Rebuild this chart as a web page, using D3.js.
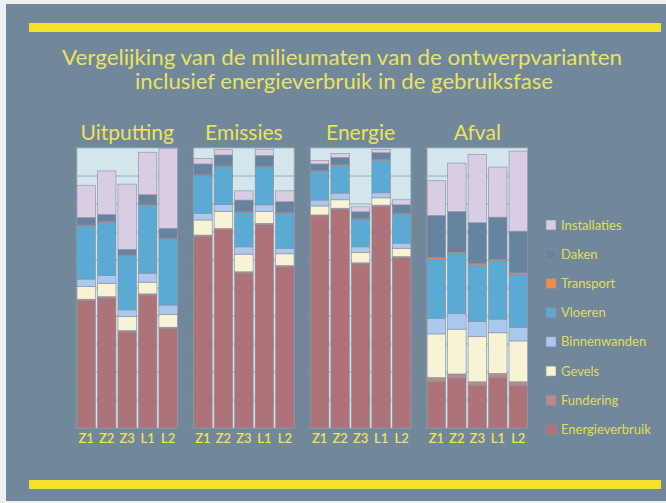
<!DOCTYPE html>
<html>
<head>
<meta charset="utf-8">
<script src="https://cdn.jsdelivr.net/npm/d3@7"></script>
<style>
  body { margin: 0; background: #eef0f0; }
  svg { display: block; }
</style>
</head>
<body>
<script>
// milieumaten van de ontwerpvarianten, gestapelde staven per thema

const width = 666, height = 503;

const panels = ["Uitputting", "Emissies", "Energie", "Afval"];
const variants = ["Z1", "Z2", "Z3", "L1", "L2"];
// van onder naar boven gestapeld
const components = ["Energieverbruik", "Fundering", "Gevels", "Binnenwanden",
                    "Vloeren", "Transport", "Daken", "Installaties"];
const legendOrder = components.slice().reverse();

// rijen = components, kolommen = variants (procent van max)
const uitputting = [
  [45.5, 46.4, 34.3, 47.4, 35.5],
  [0.5, 0.5, 0.5, 0.5, 0.5],
  [4.5, 4.8, 5.0, 4.2, 4.6],
  [2.7, 2.7, 2.4, 3.2, 3.3],
  [19.0, 19.0, 19.3, 24.1, 23.5],
  [0.3, 0.3, 0.3, 0.3, 0.3],
  [2.7, 2.5, 2.0, 3.6, 3.6],
  [11.5, 15.6, 23.3, 15.2, 28.6]
];
const emissies = [
  [68.4, 70.8, 55.3, 72.6, 57.5],
  [0.5, 0.5, 0.5, 0.5, 0.5],
  [5.4, 6.0, 6.3, 4.2, 4.2],
  [2.4, 2.6, 2.6, 2.4, 2.0],
  [13.4, 13.4, 12.2, 13.4, 12.4],
  [0.3, 0.3, 0.3, 0.3, 0.3],
  [3.9, 3.9, 4.2, 3.9, 3.9],
  [2.0, 2.0, 3.3, 2.3, 3.9]
];
const energie = [
  [75.7, 78.1, 58.6, 79.2, 60.8],
  [0.4, 0.4, 0.4, 0.4, 0.4],
  [3.2, 3.0, 3.6, 2.6, 3.0],
  [2.1, 2.4, 2.1, 1.8, 1.8],
  [10.2, 9.8, 9.8, 11.6, 10.4],
  [0.3, 0.3, 0.3, 0.3, 0.3],
  [2.4, 2.6, 2.4, 2.4, 3.0],
  [1.2, 1.5, 1.8, 1.2, 1.8]
];
const afval = [
  [16.6, 17.9, 15.2, 18.1, 15.1],
  [1.4, 1.4, 1.3, 1.4, 1.4],
  [15.6, 16.0, 16.1, 14.5, 14.6],
  [5.6, 5.5, 5.4, 4.9, 4.8],
  [21.1, 21.4, 20.2, 20.8, 19.0],
  [0.6, 0.5, 0.5, 0.5, 0.5],
  [15.0, 14.6, 14.6, 15.1, 14.9],
  [12.4, 17.3, 24.4, 17.9, 28.6]
];
const panelValues = [uitputting, emissies, energie, afval];
const yTicks = [0, 10, 20, 30, 40, 50, 60, 70, 80, 90, 100];

const colors = ["#ad7378", "#b88a8c", "#f6f4d4", "#abc9ee",
                "#5aaad3", "#f08a4e", "#6683a0", "#d9cde6"];
const color = d3.scaleOrdinal().domain(components).range(colors);

const yellow = "#ebe35a";
const font = "Lato, 'Open Sans', sans-serif";

const svg = d3.select("body").append("svg")
    .attr("width", width)
    .attr("height", height);

// achtergrond van de dia
svg.append("rect")
    .attr("x", 6).attr("y", 4)
    .attr("width", width - 6).attr("height", height - 6)
    .attr("fill", "#71889a");

svg.append("rect").attr("x", 29).attr("y", 23).attr("width", 632).attr("height", 9).attr("fill", "#f2e22c");
svg.append("rect").attr("x", 29).attr("y", 480).attr("width", 632).attr("height", 9).attr("fill", "#f2e22c");

const title = svg.append("g")
    .attr("font-family", font)
    .attr("fill", yellow)
    .attr("text-anchor", "middle");
title.append("text")
    .attr("x", 342).attr("y", 65)
    .attr("font-size", 21)
    .attr("textLength", 560).attr("lengthAdjust", "spacingAndGlyphs")
    .text("Vergelijking van de milieumaten van de ontwerpvarianten");
title.append("text")
    .attr("x", 344).attr("y", 89)
    .attr("font-size", 21)
    .attr("textLength", 418).attr("lengthAdjust", "spacingAndGlyphs")
    .text("inclusief energieverbruik in de gebruiksfase");

const plotTop = 148, plotBottom = 428;

const xPanel = d3.scaleBand()
    .domain(panels)
    .range([77, 527.5])
    .paddingInner(0.14);

const x = d3.scaleBand()
    .domain(variants)
    .range([0, xPanel.bandwidth()])
    .paddingInner(0.1)
    .paddingOuter(0);

const y = d3.scaleLinear()
    .domain([0, 100])
    .range([plotBottom, plotTop]);

const stack = d3.stack().keys(components);

panels.forEach((name, p) => {
  const vals = panelValues[p];
  const rows = variants.map((v, j) => {
    const row = {variant: v};
    components.forEach((c, i) => { row[c] = vals[i][j]; });
    return row;
  });

  const g = svg.append("g")
      .attr("transform", "translate(" + xPanel(name) + ",0)");

  g.append("rect")
      .attr("x", 0).attr("y", plotTop)
      .attr("width", xPanel.bandwidth())
      .attr("height", plotBottom - plotTop)
      .attr("fill", "#d3e6ec")
      .attr("stroke", "#a7b7bf")
      .attr("stroke-width", 0.8);

  // rasterlijnen
  g.selectAll(".grid")
    .data(yTicks.slice(1, -1))
    .enter().append("line")
      .attr("x1", 0).attr("x2", xPanel.bandwidth())
      .attr("y1", d => y(d)).attr("y2", d => y(d))
      .attr("stroke", "#8e9ea8")
      .attr("stroke-width", 0.8);

  g.selectAll(".tick")
    .data(yTicks)
    .enter().append("line")
      .attr("x1", -3).attr("x2", 0)
      .attr("y1", d => y(d)).attr("y2", d => y(d))
      .attr("stroke", "#8a9aa4")
      .attr("stroke-width", 0.8);

  g.selectAll(".layer")
    .data(stack(rows))
    .enter().append("g")
      .attr("fill", d => color(d.key))
    .selectAll("rect")
    .data(d => d)
    .enter().append("rect")
      .attr("x", d => x(d.data.variant))
      .attr("y", d => y(d[1]))
      .attr("width", x.bandwidth())
      .attr("height", d => y(d[0]) - y(d[1]))
      .attr("stroke", "#8d8c9c")
      .attr("stroke-width", 0.6);

  g.append("text")
      .attr("x", xPanel.bandwidth() / 2)
      .attr("y", 140)
      .attr("text-anchor", "middle")
      .attr("font-family", font)
      .attr("font-size", 21)
      .attr("fill", yellow)
      .text(name);

  g.selectAll(".xlab")
    .data(variants)
    .enter().append("text")
      .attr("x", d => x(d) + x.bandwidth() / 2)
      .attr("y", 443)
      .attr("text-anchor", "middle")
      .attr("font-family", font)
      .attr("font-size", 13)
      .attr("font-weight", 600)
      .attr("fill", yellow)
      .text(d => d);
});

// legenda
const legend = svg.append("g")
    .attr("font-family", font)
    .attr("font-size", 13)
    .attr("fill", "#e0dc5e");

const ly = d3.scalePoint()
    .domain(legendOrder)
    .range([225, 429.5]);

const item = legend.selectAll("g")
    .data(legendOrder)
    .enter().append("g")
      .attr("transform", d => "translate(546," + ly(d) + ")");

item.append("rect")
    .attr("x", 0).attr("y", -5)
    .attr("width", 10).attr("height", 10)
    .attr("fill", d => color(d))
    .attr("stroke", "#8d8c9c")
    .attr("stroke-width", 0.6);

item.append("text")
    .attr("x", 15).attr("y", 4.5)
    .text(d => d);
</script>
</body>
</html>
